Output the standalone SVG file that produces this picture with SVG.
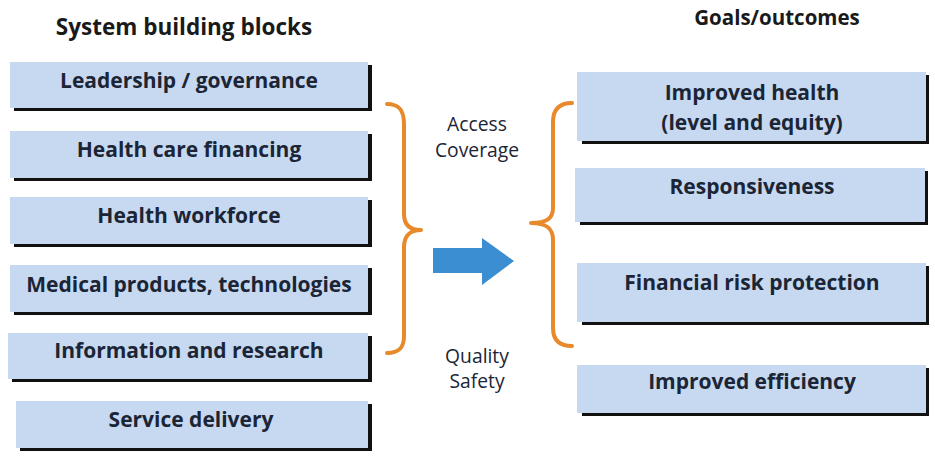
<svg xmlns="http://www.w3.org/2000/svg" width="935" height="470" viewBox="0 0 935 470">
<style>
.box{fill:#C6D9F1}
.sh{fill:#111111}
.t{font-family:"Open Sans",Lato,"Liberation Sans",sans-serif;font-weight:700;font-size:21px;fill:#1B2535;text-anchor:middle}
.h{font-family:"Open Sans",Lato,"Liberation Sans",sans-serif;font-weight:700;fill:#1A1A1A;text-anchor:middle}
.m{font-family:"Open Sans",Lato,"Liberation Sans",sans-serif;font-weight:400;font-size:19.3px;fill:#1B2535;text-anchor:middle}
.br{fill:none;stroke:#E8892C;stroke-width:4;stroke-linecap:round;stroke-linejoin:round}
</style>
<rect width="935" height="470" fill="#ffffff"/>
<text class="h" x="184" y="35" font-size="22.5">System building blocks</text>
<text class="h" x="777" y="25" font-size="20.5">Goals/outcomes</text>
<g id="n1"><rect class="sh" x="14" y="65" width="358" height="46"/><rect class="box" x="10" y="62" width="358" height="46"/><text class="t" x="189" y="88">Leadership / governance</text></g>
<g id="n2"><rect class="sh" x="14" y="134" width="358" height="47"/><rect class="box" x="10" y="131" width="358" height="47"/><text class="t" x="189" y="157">Health care financing</text></g>
<g id="n3"><rect class="sh" x="14" y="200" width="358" height="47"/><rect class="box" x="10" y="197" width="358" height="47"/><text class="t" x="189" y="223">Health workforce</text></g>
<g id="n4"><rect class="sh" x="14" y="268" width="358" height="47"/><rect class="box" x="10" y="265" width="358" height="47"/><text class="t" x="189" y="292">Medical products, technologies</text></g>
<g id="n5"><rect class="sh" x="12" y="336" width="360" height="46"/><rect class="box" x="8" y="333" width="360" height="46"/><text class="t" x="189" y="358">Information and research</text></g>
<g id="n6"><rect class="sh" x="20" y="404" width="352" height="47"/><rect class="box" x="16" y="401" width="352" height="47"/><text class="t" x="191" y="427">Service delivery</text></g>
<g id="r1"><rect class="sh" x="582" y="75" width="347" height="69"/><rect class="box" x="577" y="72" width="349" height="69"/><text class="t" x="752" y="100">Improved health</text><text class="t" x="752" y="130">(level and equity)</text></g>
<g id="r2"><rect class="sh" x="580" y="171" width="348" height="54"/><rect class="box" x="575" y="168" width="350" height="54"/><text class="t" x="752" y="194">Responsiveness</text></g>
<g id="r3"><rect class="sh" x="582" y="266" width="347" height="59"/><rect class="box" x="577" y="263" width="349" height="59"/><text class="t" x="752" y="290">Financial risk protection</text></g>
<g id="r4"><rect class="sh" x="582" y="368" width="347" height="48"/><rect class="box" x="577" y="365" width="349" height="48"/><text class="t" x="752" y="389">Improved efficiency</text></g>
<g id="connectors">
<path class="br" d="M387 104 C399 104 404 110 404 124 L404 214 C404 225 410 230 421 230 C410 230 404 236 404 247 L404 336 C404 348 399 353 387 353"/>
<path class="br" d="M572 103 C560 103 553 109 553 122 L553 208 C553 219 546 223 531 223 C546 223 553 228 553 240 L553 328 C553 341 560 346 572 346"/>
<polygon fill="#3A8ED1" points="433,248 482,248 482,238 514,261 482,285 482,273 433,273"/>
</g>
<g id="labels">
<text class="m" x="477" y="131">Access</text>
<text class="m" x="477" y="157">Coverage</text>
<text class="m" x="477" y="363">Quality</text>
<text class="m" x="477" y="388">Safety</text>
</g>
</svg>
